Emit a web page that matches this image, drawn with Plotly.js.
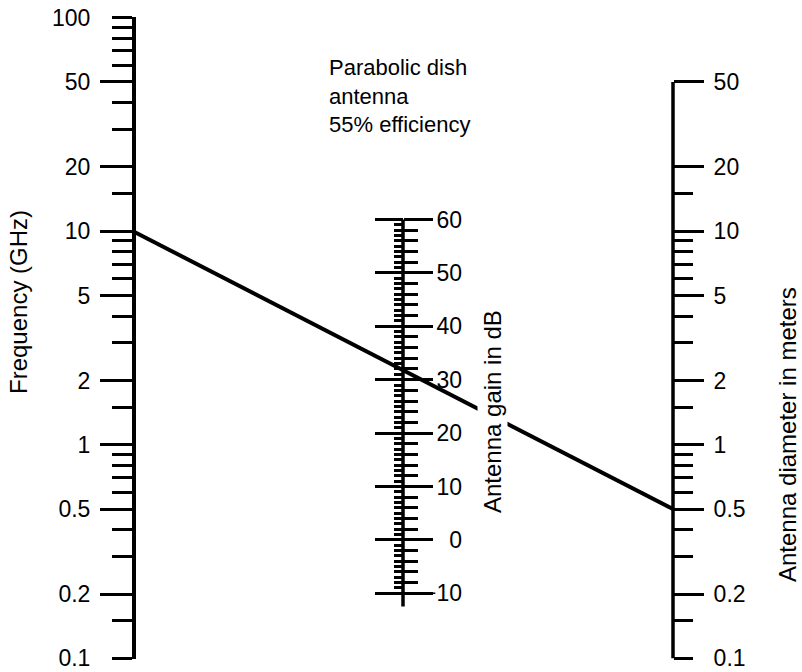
<!DOCTYPE html>
<html>
<head>
<meta charset="utf-8">
<script src="https://cdn.plot.ly/plotly-3.0.1.min.js"></script>
<style>html,body{margin:0;padding:0;background:#fff;}</style>
</head>
<body>
<div id="chart" style="width:802px;height:672px;"></div>
<script>
// ---- chart values ----
const freqTickVals = [100, 50, 20, 10, 5, 2, 1, 0.5, 0.2, 0.1];
const freqTickText = ['100', '50', '20', '10', '5', '2', '1', '0.5', '0.2', '0.1'];
const freqLongTicks = [50, 20, 10, 5, 2, 1, 0.5, 0.2];
const freqMinorTicks = [90, 80, 70, 60, 40, 30, 15, 9, 8, 7, 6, 4, 3, 1.5, 0.9, 0.8, 0.7, 0.6, 0.4, 0.3, 0.15];

const gainTickVals = [60, 50, 40, 30, 20, 10, 0, -10];
const gainTickText = ['60', '50', '40', '30', '20', '10', '0', '\u221210'];
const gainAxisEnds = [-12.5, 60];

const diamTickVals = [50, 20, 10, 5, 2, 1, 0.5, 0.2, 0.1];
const diamTickText = ['50', '20', '10', '5', '2', '1', '0.5', '0.2', '0.1'];
const diamLongTicks = [50, 20, 10, 5, 2, 1, 0.5, 0.2];
const diamMinorTicks = [15, 9, 8, 7, 6, 4, 3, 1.5, 0.9, 0.8, 0.7, 0.6, 0.4, 0.3, 0.15];
const diamAxisEnds = [0.1, 50];

const exampleFreqGHz = 10;
const exampleDiamM = 0.5;
const efficiency = 0.55;

// minor gain ticks (1 dB and 2 dB subdivisions)
const gainMinorAll = [], gainMinorEven = [];
for (let g = -9; g < 60; g++) {
  if (g % 10 === 0) continue;
  gainMinorAll.push(g);
  if (g % 2 === 0) gainMinorEven.push(g);
}

// log range of the outer scales (slightly padded so the end ticks are kept)
const EPS = 0.003;
const logRange = [-1 - EPS, 2 + EPS];
// nomogram relation: G = K + 20 log10(f*D); middle scale sits halfway between
const K = 10 * Math.log10(efficiency * Math.pow(Math.PI * 1e9 / 3e8, 2));
const gainRange = [K + 40 * logRange[0], K + 40 * logRange[1]];

// ---- layout geometry ----
const PL = 100, PR = 710, PT = 17, PB = 659;
const pp = p => (p - PL) / (PR - PL);
const py = p => (PB - p) / (PB - PT);
const xFreq = 133, xDiam = 673;
const xr = [(PL - xFreq) / (xDiam - xFreq), 1 + (PR - xDiam) / (xDiam - xFreq)];

const FONT = '"Liberation Sans", Arial, sans-serif';
const tickFont = {family: FONT, size: 23, color: '#000'};
const titleFont = {family: FONT, size: 24, color: '#000'};
const LW = 3;

const baseAx = {showgrid: false, zeroline: false, fixedrange: true, tickcolor: '#000', tickwidth: LW,
                tickmode: 'array', ticklabeloverflow: 'allow'};

const data = [
  {x: [0, 1], y: [exampleFreqGHz, exampleDiamM], xaxis: 'x', yaxis: 'y', mode: 'lines',
   line: {color: '#000', width: 4}, hoverinfo: 'skip', showlegend: false},
  {x: [0.5, 0.5], y: gainAxisEnds, xaxis: 'x', yaxis: 'y3', mode: 'lines',
   line: {color: '#000', width: 3.5}, hoverinfo: 'skip', showlegend: false},
  {x: [1, 1], y: diamAxisEnds, xaxis: 'x', yaxis: 'y6', mode: 'lines',
   line: {color: '#000', width: 3.5}, hoverinfo: 'skip', showlegend: false},
  {x: [], y: [], yaxis: 'y2', showlegend: false},
  {x: [], y: [], yaxis: 'y4', showlegend: false},
  {x: [], y: [], yaxis: 'y5', showlegend: false},
  {x: [], y: [], yaxis: 'y7', showlegend: false}
];

const layout = {
  width: 802, height: 672,
  margin: {l: PL, r: 802 - PR, t: PT, b: 672 - PB, pad: 0},
  paper_bgcolor: '#fff', plot_bgcolor: '#fff',
  showlegend: false,
  font: {family: FONT, color: '#000'},
  xaxis: {range: xr, visible: false, fixedrange: true},
  yaxis: Object.assign({}, baseAx, {
    type: 'log', range: logRange, anchor: 'free', position: pp(xFreq), side: 'left',
    showline: true, linecolor: '#000', linewidth: 3.5,
    ticks: 'outside', ticklen: 20, tickvals: freqTickVals, ticktext: freqTickText,
    tickfont: tickFont, ticklabelstandoff: 17,
    minor: {tickmode: 'array', tickvals: freqMinorTicks, ticks: 'outside', ticklen: 20, tickwidth: LW, tickcolor: '#000', showgrid: false}
  }),
  yaxis2: Object.assign({}, baseAx, {
    type: 'log', range: logRange, overlaying: 'y', anchor: 'free', position: pp(xFreq), side: 'left',
    showline: false, ticks: 'outside', ticklen: 33, tickvals: freqLongTicks, showticklabels: false
  }),
  yaxis3: Object.assign({}, baseAx, {
    range: gainRange, overlaying: 'y', anchor: 'free', position: pp(403), side: 'right',
    showline: false, ticks: 'outside', ticklen: 29, tickvals: gainTickVals, showticklabels: false,
    minor: {tickmode: 'array', tickvals: gainMinorEven, ticks: 'outside', ticklen: 14, tickwidth: LW, tickcolor: '#000', showgrid: false}
  }),
  yaxis4: Object.assign({}, baseAx, {
    range: gainRange, overlaying: 'y', anchor: 'free', position: pp(403), side: 'left',
    showline: false, ticks: 'outside', ticklen: 28, tickvals: gainTickVals, showticklabels: false,
    minor: {tickmode: 'array', tickvals: gainMinorAll, ticks: 'outside', ticklen: 9, tickwidth: LW, tickcolor: '#000', showgrid: false}
  }),
  yaxis5: Object.assign({}, baseAx, {
    range: gainRange, overlaying: 'y', anchor: 'free', position: pp(462), side: 'left',
    showline: false, ticks: '', tickvals: gainTickVals, ticktext: gainTickText,
    tickfont: tickFont, ticklabelstandoff: 0
  }),
  yaxis6: Object.assign({}, baseAx, {
    type: 'log', range: logRange, overlaying: 'y', anchor: 'free', position: pp(xDiam), side: 'right',
    showline: false, ticks: 'outside', ticklen: 19, tickvals: diamTickVals, ticktext: diamTickText,
    tickfont: tickFont, ticklabelstandoff: 16,
    minor: {tickmode: 'array', tickvals: diamMinorTicks, ticks: 'outside', ticklen: 19, tickwidth: LW, tickcolor: '#000', showgrid: false}
  }),
  yaxis7: Object.assign({}, baseAx, {
    type: 'log', range: logRange, overlaying: 'y', anchor: 'free', position: pp(xDiam), side: 'right',
    showline: false, ticks: 'outside', ticklen: 30, tickvals: diamLongTicks, showticklabels: false
  }),
  annotations: [
    {text: 'Frequency (GHz)', xref: 'paper', yref: 'paper', x: pp(18), y: py(302),
     xanchor: 'center', yanchor: 'middle',
     textangle: -90, showarrow: false, font: titleFont},
    {text: 'Antenna gain in dB', xref: 'paper', yref: 'paper', x: pp(492), y: py(412),
     xanchor: 'center', yanchor: 'middle',
     textangle: -90, showarrow: false, bgcolor: '#fff', borderpad: 1, font: titleFont},
    {text: 'Antenna diameter in meters', xref: 'paper', yref: 'paper', x: pp(787), y: py(435),
     xanchor: 'center', yanchor: 'middle',
     textangle: -90, showarrow: false, font: titleFont},
    {text: 'Parabolic dish<br>antenna<br>55% efficiency', xref: 'paper', yref: 'paper',
     x: pp(327), y: py(96), xanchor: 'left', yanchor: 'middle', align: 'left',
     showarrow: false, font: {family: FONT, size: 22, color: '#000'}}
  ]
};

Plotly.newPlot('chart', data, layout, {staticPlot: true, displayModeBar: false});
</script>
</body>
</html>
